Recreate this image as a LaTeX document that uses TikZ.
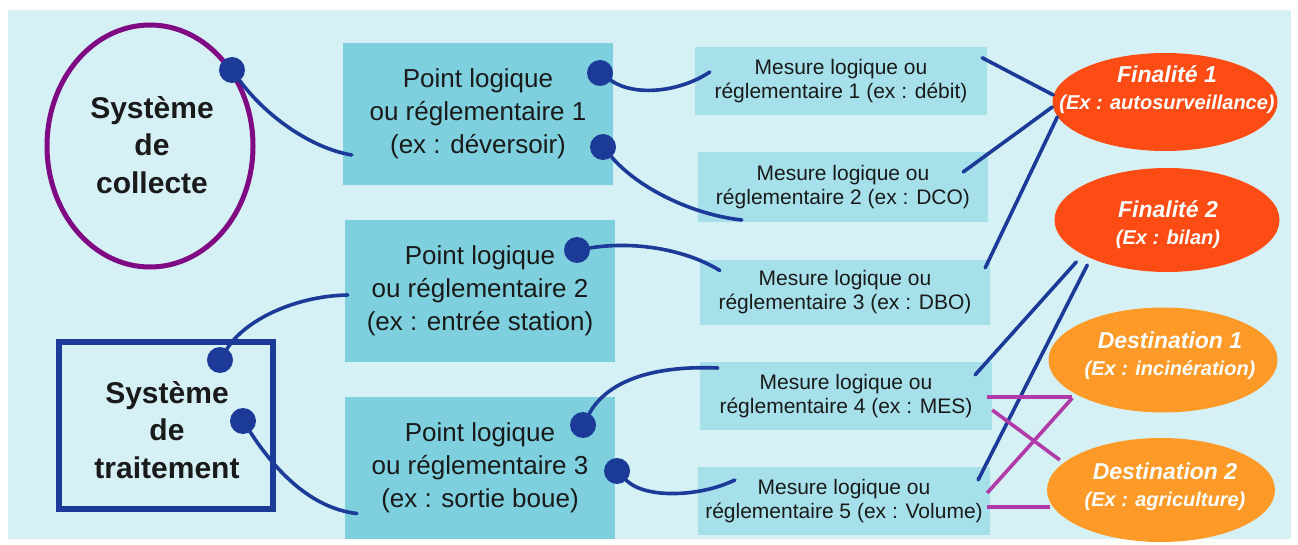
\documentclass[tikz,border=0pt]{standalone}
\usepackage{fontspec}
\setmainfont{Liberation Sans}
\usetikzlibrary{shapes.geometric,calc}
\definecolor{bg}{HTML}{D5F1F5}
\definecolor{pcol}{HTML}{7ED0DE}
\definecolor{mcol}{HTML}{A6E0EA}
\definecolor{dblue}{HTML}{1C3A98}
\definecolor{purp}{HTML}{800A84}
\definecolor{mag}{HTML}{B03AA8}
\definecolor{fcol}{HTML}{FF4C14}
\definecolor{dcol}{HTML}{FF9A28}
\definecolor{txt}{HTML}{1A1A1A}
\newcommand{\elltitle}[1]{{\fontsize{23}{27}\selectfont #1}}
\tikzset{
  pbox/.style={rectangle, fill=pcol, inner sep=0, minimum width=270, minimum height=142,
    align=center, text=txt, font=\fontsize{26}{33}\selectfont},
  mbox/.style={rectangle, fill=mcol, inner sep=0, minimum width=291, minimum height=68,
    align=center, text=txt, font=\fontsize{21}{24}\selectfont},
  systxt/.style={align=center, text=txt, font=\fontsize{30}{37.5}\selectfont\bfseries},
  elltxt/.style={align=center, text=white, font=\fontsize{20}{27}\selectfont\bfseries\itshape},
  dotn/.style={circle, fill=dblue, inner sep=0, minimum size=26},
  conn/.style={draw=dblue, line width=3.6, line cap=round},
  mconn/.style={draw=mag, line width=3.6},
  fin/.style={ellipse, fill=fcol, inner sep=0, minimum width=225, minimum height=98},
  dst/.style={ellipse, fill=dcol, inner sep=0, minimum width=229, minimum height=105},
}
\begin{document}
\begin{tikzpicture}[x=1pt,y=-1pt]
\useasboundingbox (0,0) rectangle (1298,545);
\fill[white] (0,0) rectangle (1298,545);
\fill[bg] (8,10) rectangle (1291,539);

% left systems
\node[ellipse, draw=purp, line width=5, inner sep=0, minimum width=206, minimum height=242] (coll) at (150,146) {};
\node[systxt] (colltxt) at (152,145) {Système\\de\\collecte};
\node[rectangle, draw=dblue, line width=6, inner sep=0, minimum width=214, minimum height=167] (trait) at (166,425.5) {};
\node[systxt] (traittxt) at (167,430) {Système\\de\\traitement};

% point boxes
\node[pbox] (p1) at (478,114) {Point logique\\ou réglementaire 1\\(ex : déversoir)};
\node[pbox] (p2) at (480,291) {Point logique\\ou réglementaire 2\\(ex : entrée station)};
\node[pbox] (p3) at (480,467.5) {Point logique\\ou réglementaire 3\\(ex : sortie boue)};

% measure boxes
\node[mbox, minimum width=292] (m1) at (841,81) {Mesure logique ou\\réglementaire 1 (ex : débit)};
\node[mbox, minimum width=290, minimum height=70] (m2) at (843,187) {Mesure logique ou\\réglementaire 2 (ex : DCO)};
\node[mbox, minimum width=290, minimum height=65] (m3) at (845,292.5) {Mesure logique ou\\réglementaire 3 (ex : DBO)};
\node[mbox, minimum width=292] (m4) at (846,396) {Mesure logique ou\\réglementaire 4 (ex : MES)};
\node[mbox, minimum width=292] (m5) at (844,501) {Mesure logique ou\\réglementaire 5 (ex : Volume)};

% right ellipses
\node[fin] (f1) at (1165,102) {};
\node[fin, minimum height=104] (f2) at (1167,220) {};
\node[dst] (d1) at (1163,360) {};
\node[dst, minimum height=104, minimum width=228] (d2) at (1161,490) {};

% dots
\node[dotn] (dc) at (232,70) {};
\node[dotn] (dt1) at (220,360) {};
\node[dotn] (dt2) at (243,421) {};
\node[dotn] (dp1a) at (600,73) {};
\node[dotn] (dp1b) at (603,147) {};
\node[dotn] (dp2) at (577,250) {};
\node[dotn] (dp3a) at (583,425) {};
\node[dotn] (dp3b) at (617,471) {};

% curved connectors
\draw[conn] (dc) .. controls (265,115) and (310,148) .. ($(p1.west)+(9,41)$);
\draw[conn] (dt1) .. controls (245,320) and (295,296) .. ($(p2.west)+(3,4)$);
\draw[conn] (dt2) .. controls (275,470) and (310,508) .. ($(p3.west)+(12,46)$);
\draw[conn] (dp1a) .. controls (635,97) and (680,92) .. ($(m1.west)+(15,-9)$);
\draw[conn] (dp1b) .. controls (640,190) and (695,215) .. ($(m2.west)+(44,33)$);
\draw[conn] (dp2) .. controls (640,240) and (690,252) .. ($(m3.west)+(20,-22)$);
\draw[conn] (dp3a) .. controls (605,385) and (645,365) .. ($(m4.west)+(18,-28)$);
\draw[conn] (dp3b) .. controls (645,499) and (700,497) .. ($(m5.west)+(37,-21)$);

% straight connectors to finalities
\draw[conn] ($(m1.north east)+(-5,11)$) -- ($(f1.west)+(1,-7)$);
\draw[conn] ($(m2.east)+(-25,-15)$) -- ($(f1.west)+(0,5)$);
\draw[conn] ($(m3.north east)+(-5,8)$) -- ($(f1.west)+(5,15)$);
\draw[conn] ($(m4.north east)+(-17,13)$) -- ($(f2.west)+(22,42)$);
\draw[conn] ($(m5.north east)+(-12,13)$) -- ($(f2.west)+(33,45)$);

% magenta connectors to destinations
\draw[mconn] ($(m4.east)+(-5,1)$) -- ($(d1.west)+(24,37)$);
\draw[mconn] ($(m4.east)+(0,14)$) -- ($(d2.west)+(13,-30)$);
\draw[mconn] ($(m5.east)+(-3,-8)$) -- ($(d1.west)+(24,38)$);
\draw[mconn] ($(m5.east)+(-3,6)$) -- ($(d2.west)+(3,17)$);

% ellipse texts
\node[elltxt] (f1t) at (1167,90) {\elltitle{Finalité 1}\\(Ex : autosurveillance)};
\node[elltxt] (f2t) at (1168,225) {\elltitle{Finalité 2}\\(Ex : bilan)};
\node[elltxt] (d1t) at (1170,356) {\elltitle{Destination 1}\\(Ex : incinération)};
\node[elltxt] (d2t) at (1165,487) {\elltitle{Destination 2}\\(Ex : agriculture)};
\end{tikzpicture}
\end{document}
